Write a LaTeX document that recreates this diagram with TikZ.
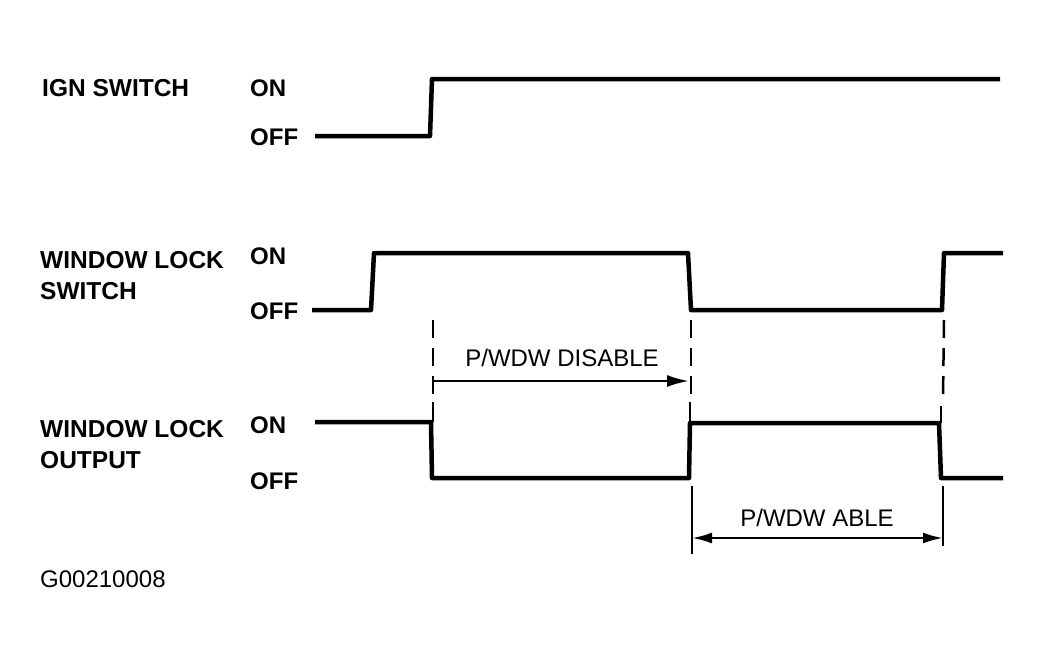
\documentclass[tikz,border=0pt]{standalone}
\usepackage{fontspec}
\setmainfont{Liberation Sans}
\usetikzlibrary{arrows.meta}

\begin{document}
\begin{tikzpicture}[
    x=1pt, y=-1pt,
    signame/.style={anchor=west, align=left, inner sep=0pt, font=\fontsize{24.5}{31}\selectfont\bfseries},
    level/.style={anchor=west, inner sep=0pt, font=\fontsize{24}{28}\selectfont\bfseries},
    span/.style={inner sep=0pt, font=\fontsize{24}{28}\selectfont},
    wave/.style={line width=4.5pt, line join=round},
    guide/.style={line width=2.5pt, dash pattern=on 18pt off 10pt},
    extend/.style={line width=2.5pt},
    dim/.style={line width=2.5pt}
]
\useasboundingbox (0,0) rectangle (1044,662);

% Signal names
\node[signame] (ign) at (42,88) {IGN SWITCH};
\node[signame] (wls) at (40,276) {WINDOW LOCK\\SWITCH};
\node[signame] (wlo) at (40,445) {WINDOW LOCK\\OUTPUT};

% ON / OFF levels
\node[level] (ignon) at (250,88) {ON};
\node[level] (ignoff) at (250,137) {OFF};
\node[level] (wlson) at (250,256) {ON};
\node[level] (wlsoff) at (250,311) {OFF};
\node[level] (wloon) at (250,425) {ON};
\node[level] (wlooff) at (250,481) {OFF};

% Waveforms
\draw[wave] (315,136) -- (430,136) -- (432,79) -- (1000,79);
\draw[wave] (312,310) -- (371,310) -- (374,253) -- (688,253) -- (691,310)
    -- (942,310) -- (944,253) -- (1003,253);
\draw[wave] (315,422) -- (431,422) -- (432,478) -- (689,478) -- (690,423)
    -- (939,423) -- (941,478) -- (1003,478);

% Guide lines
\coordinate (t1) at (433,320);
\coordinate (t2) at (691,320);
\coordinate (t3) at (944,320);
\draw[guide] (t1) -- (433,402);
\draw[guide] (t2) -- (691,402);
\draw[guide] (t3) -- (943,398);
\draw[extend] (433,402) -- (433,422);
\draw[extend] (690,402) -- (690,423);
\draw[extend] (941,406) -- (941,423);
\coordinate (a1) at (692,486);
\coordinate (a2) at (943,486);
\draw[extend] (a1) -- (692,554);
\draw[extend] (a2) -- (943,546);

% Spans
\coordinate (d1) at (433,381);
\coordinate (d2) at (689,381);
\draw[dim, -{Latex[length=22pt,width=12pt]}] (d1) -- (d2);
\node[span] (disable) at (562,358) {P/WDW DISABLE};
\coordinate (e1) at (692,538);
\coordinate (e2) at (943,538);
\draw[dim, {Latex[length=20pt,width=11pt]}-{Latex[length=20pt,width=11pt]}] (e1) -- (e2);
\node[span] (able) at (817,518) {P/WDW ABLE};

% Figure number
\node[span, anchor=west] (fig) at (40,579) {G00210008};
\end{tikzpicture}
\end{document}
